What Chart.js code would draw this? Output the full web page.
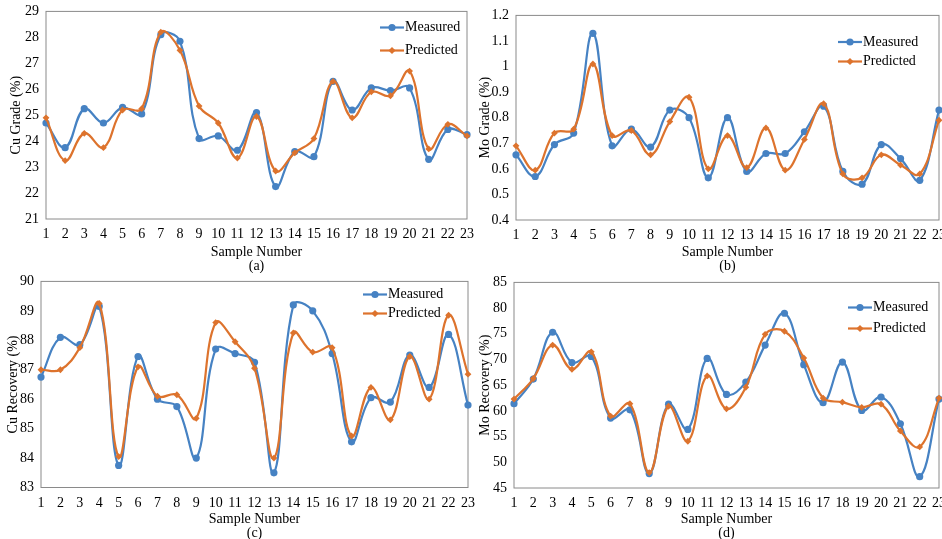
<!DOCTYPE html>
<html lang="en">
<head>
<meta charset="UTF-8">
<title>Measured vs Predicted</title>
<script src="https://cdn.jsdelivr.net/npm/chart.js"></script>
<style>
  html, body { margin: 0; padding: 0; background: #fff; overflow: hidden; }
  body { width: 942px; height: 539px; position: relative; }
  canvas { position: absolute; }
</style>
</head>
<body>
<canvas id="cuGrade"></canvas>
<canvas id="moGrade"></canvas>
<canvas id="cuRecovery"></canvas>
<canvas id="moRecovery"></canvas>
<script>
const sampleLabels = ['1','2','3','4','5','6','7','8','9','10','11','12','13','14','15','16','17','18','19','20','21','22','23'];

const cuGradeMeasured  = [24.7, 23.75, 25.25, 24.7, 25.3, 25.05, 28.1, 27.85, 24.1, 24.2, 23.65, 25.1, 22.25, 23.6, 23.4, 26.3, 25.2, 26.05, 25.95, 26.05, 23.3, 24.45, 24.25];
const cuGradePredicted = [24.9, 23.25, 24.3, 23.75, 25.2, 25.25, 28.2, 27.5, 25.35, 24.7, 23.35, 24.95, 22.85, 23.55, 24.1, 26.3, 24.9, 25.9, 25.75, 26.7, 23.7, 24.65, 24.2];

const moGradeMeasured  = [0.655, 0.57, 0.695, 0.74, 1.13, 0.69, 0.755, 0.685, 0.83, 0.80, 0.565, 0.80, 0.59, 0.66, 0.66, 0.745, 0.845, 0.59, 0.54, 0.695, 0.64, 0.555, 0.83];
const moGradePredicted = [0.69, 0.595, 0.74, 0.755, 1.01, 0.73, 0.75, 0.655, 0.785, 0.88, 0.60, 0.73, 0.605, 0.76, 0.595, 0.715, 0.855, 0.58, 0.565, 0.655, 0.615, 0.58, 0.79];

const cuRecMeasured  = [86.75, 88.1, 87.85, 89.15, 83.75, 87.45, 86.0, 85.75, 84.0, 87.7, 87.55, 87.25, 83.5, 89.2, 89.0, 87.55, 84.55, 86.05, 85.9, 87.5, 86.4, 88.2, 85.8];
const cuRecPredicted = [87.0, 87.0, 87.75, 89.25, 84.05, 87.1, 86.1, 86.15, 85.35, 88.6, 87.95, 87.05, 84.0, 88.25, 87.6, 87.75, 84.75, 86.4, 85.3, 87.45, 86.0, 88.85, 86.85];

const moRecMeasured  = [61.4, 66.2, 75.3, 69.4, 70.6, 58.6, 60.2, 47.8, 61.3, 56.4, 70.2, 63.2, 65.6, 72.8, 79.0, 69.0, 61.6, 69.5, 60.1, 62.7, 57.5, 47.2, 62.3];
const moRecPredicted = [62.3, 66.3, 72.8, 68.1, 71.5, 59.0, 61.4, 48.0, 60.9, 54.1, 66.8, 60.4, 64.6, 74.9, 75.5, 70.3, 62.5, 61.7, 60.7, 61.3, 56.1, 53.0, 62.5];

const BLUE = '#4682c3';
const ORANGE = '#dd732d';
const FONT = "'Liberation Serif', 'Times New Roman', serif";

// draws the grey frame round the plot area
const framePlugin = {
  id: 'frame',
  beforeDatasetsDraw(chart) {
    const a = chart.chartArea, ctx = chart.ctx;
    ctx.save();
    ctx.strokeStyle = '#8a8a8a';
    ctx.lineWidth = 1;
    ctx.strokeRect(a.left, a.top, a.right - a.left, a.bottom - a.top);
    ctx.restore();
  }
};

// excel style legend: short line with the marker in the middle
const legendPlugin = {
  id: 'lineLegend',
  afterDraw(chart, args, opts) {
    const ctx = chart.ctx;
    ctx.save();
    chart.data.datasets.forEach((ds, i) => {
      const y = opts.y + i * opts.gap;
      const x = opts.x;
      ctx.strokeStyle = ds.borderColor;
      ctx.lineWidth = 2.2;
      ctx.beginPath();
      ctx.moveTo(x, y);
      ctx.lineTo(x + 24, y);
      ctx.stroke();
      ctx.fillStyle = ds.borderColor;
      ctx.beginPath();
      if (ds.pointStyle === 'circle') {
        ctx.arc(x + 12, y, 3.6, 0, Math.PI * 2);
      } else {
        ctx.moveTo(x + 12, y - 3.6);
        ctx.lineTo(x + 15.6, y);
        ctx.lineTo(x + 12, y + 3.6);
        ctx.lineTo(x + 8.4, y);
        ctx.closePath();
      }
      ctx.fill();
      ctx.fillStyle = '#000';
      ctx.font = '14px ' + FONT;
      ctx.textBaseline = 'middle';
      ctx.textAlign = 'left';
      ctx.fillText(ds.label, x + 25, y);
    });
    ctx.restore();
  }
};

function makePanel(id, box, yTitle, xTitle, yMin, yMax, yStep, measured, predicted) {
  const cl = box.tx - 7;
  const ct = box.T - 12;
  const w = Math.round(box.R + 25 - cl);
  const h = Math.round(box.B + box.xh - ct);
  const canvas = document.getElementById(id);
  canvas.width = w;
  canvas.height = h;
  canvas.style.left = cl + 'px';
  canvas.style.top = ct + 'px';
  canvas.style.width = w + 'px';
  canvas.style.height = h + 'px';

  new Chart(canvas, {
    type: 'line',
    data: {
      labels: sampleLabels,
      datasets: [
        {
          label: 'Measured', data: measured,
          borderColor: BLUE, backgroundColor: BLUE,
          borderWidth: 2.2, tension: 0.4,
          pointStyle: 'circle', pointRadius: 3.6, pointBorderWidth: 0,
          clip: false, order: 1
        },
        {
          label: 'Predicted', data: predicted,
          borderColor: ORANGE, backgroundColor: ORANGE,
          borderWidth: 2.2, tension: 0.4,
          pointStyle: 'rectRot', pointRadius: 3.4, pointBorderWidth: 0,
          clip: false, order: 0
        }
      ]
    },
    options: {
      responsive: false,
      animation: false,
      layout: { padding: { left: 0, top: box.T - ct, right: 25, bottom: 0 } },
      plugins: {
        legend: { display: false },
        tooltip: { enabled: false },
        lineLegend: { x: box.lx - cl, y: box.ly - ct, gap: box.lg }
      },
      scales: {
        x: {
          offset: false,
          grid: { display: false, drawTicks: false },
          border: { display: false },
          ticks: { color: '#000', font: { family: FONT, size: 14 }, padding: 7, maxRotation: 0, autoSkip: false },
          title: { display: true, text: ['Sample Number', xTitle], color: '#000', padding: 0,
                   font: { family: FONT, size: 14, lineHeight: '14px' } },
          afterFit: s => { s.height = box.xh; }
        },
        y: {
          min: yMin, max: yMax,
          grid: { display: false, drawTicks: false },
          border: { display: false },
          ticks: {
            stepSize: yStep, color: '#000', font: { family: FONT, size: 14 }, padding: 7,
            callback: v => String(Math.round(v * 100) / 100)
          },
          title: { display: true, text: yTitle, color: '#000', padding: 0,
                   font: { family: FONT, size: 14, lineHeight: 1 } },
          afterFit: s => { s.width = box.L - cl; }
        }
      }
    },
    plugins: [framePlugin, legendPlugin]
  });
}

makePanel('cuGrade',
  { L: 46, T: 8, R: 466.5, B: 219, tx: 16, xh: 54, lx: 380, ly: 27.5, lg: 23 },
  'Cu Grade (%)', '(a)', 21, 29, 1, cuGradeMeasured, cuGradePredicted);

makePanel('moGrade',
  { L: 516, T: 11.5, R: 939, B: 219, tx: 485, xh: 53, lx: 838, ly: 41.5, lg: 19.5 },
  'Mo Grade (%)', '(b)', 0.4, 1.2, 0.1, moGradeMeasured, moGradePredicted);

makePanel('cuRecovery',
  { L: 41, T: 277.5, R: 467.5, B: 486.5, tx: 13, xh: 52.5, lx: 363, ly: 294, lg: 19 },
  'Cu Recovery (%)', '(c)', 83, 90, 1, cuRecMeasured, cuRecPredicted);

makePanel('moRecovery',
  { L: 514, T: 278.5, R: 939, B: 487, tx: 485, xh: 52, lx: 848, ly: 307, lg: 21 },
  'Mo Recovery (%)', '(d)', 45, 85, 5, moRecMeasured, moRecPredicted);
</script>
</body>
</html>
